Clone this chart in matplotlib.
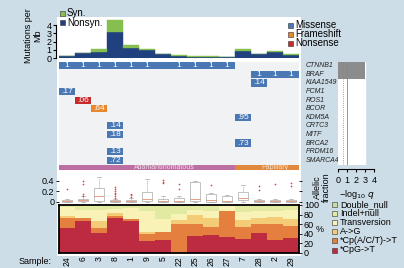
import matplotlib
matplotlib.use('Agg')
import matplotlib.pyplot as plt
from matplotlib.patches import Rectangle
from matplotlib.transforms import blended_transform_factory
import numpy as np

plt.rcParams['font.family'] = ['Liberation Sans', 'DejaVu Sans']

# ---------------- data ----------------
samples = ['24', '6', '3', '8', '1', '9', '5', '22', '25', '26', '27', '7', '28', '2', '29']
nonsyn = [0.25, 0.55, 0.75, 3.15, 1.2, 1.0, 0.45, 0.28, 0.18, 0.18, 0.08, 0.85, 0.45, 0.7, 0.33]
syn = [0.05, 0.10, 0.30, 1.45, 0.40, 0.05, 0.03, 0.07, 0.04, 0.04, 0.04, 0.25, 0.05, 0.15, 0.12]

genes = ['CTNNB1', 'BRAF', 'KIAA1549', 'PCM1', 'ROS1', 'BCOR', 'KDM5A', 'CRTC3',
         'MITF', 'BRCA2', 'PRDM16', 'SMARCA4']
mut_gene = ['CTNNB1'] * 11 + ['BRAF'] * 3 + ['KIAA1549', 'PCM1', 'ROS1', 'BCOR', 'KDM5A',
                                            'CRTC3', 'MITF', 'BRCA2', 'PRDM16', 'SMARCA4']
mut_sample = ['24', '6', '3', '8', '1', '9', '5', '22', '25', '26', '27',
              '28', '2', '29',
              '28', '24', '6', '3', '7', '8', '8', '7', '8', '8']
mut_type = ['Missense'] * 14 + ['Missense', 'Missense', 'Nonsense', 'Frameshift', 'Missense',
                                'Missense', 'Missense', 'Missense', 'Missense', 'Missense']
mut_label = ['1', '1', '1', '1', '1', '1', '', '1', '1', '1', '1',
             '1', '1', '1',
             '.14', '.17', '.06', '.64', '.95', '.14', '.18', '.73', '.13', '.72']
type_colors = {'Missense': '#4a78b4', 'Frameshift': '#e8872c', 'Nonsense': '#c92a2a'}

neglog_q = [3.0, 3.0, 0, 0, 0, 0, 0, 0, 0, 0, 0, 0]
q_line_solid = 1.0
q_line_dotted = 0.6

subtype = ['Adamantinomatous'] * 11 + ['Papillary'] * 4
subtype_colors = {'Adamantinomatous': '#bb6fa3', 'Papillary': '#e0893c'}

af_q1 = [0.0, 0.01, 0.02, 0.0, 0.0, 0.01, 0.0, 0.0, 0.01, 0.0, 0.0, 0.03, 0.0, 0.0, 0.0]
af_med = [0.01, 0.03, 0.10, 0.01, 0.01, 0.05, 0.02, 0.01, 0.05, 0.03, 0.02, 0.08, 0.01, 0.01, 0.01]
af_q3 = [0.03, 0.06, 0.27, 0.03, 0.03, 0.18, 0.06, 0.08, 0.38, 0.14, 0.11, 0.19, 0.04, 0.03, 0.03]
af_whislo = [0.0] * 15
af_whishi = [0.06, 0.10, 0.48, 0.06, 0.07, 0.43, 0.10, 0.10, 0.40, 0.16, 0.13, 0.31, 0.06, 0.05, 0.05]
af_fliers = [[0.25], [0.11, 0.14, 0.34, 0.40], [], [0.08, 0.11, 0.14, 0.17, 0.20, 0.24, 0.28],
             [0.09, 0.12, 0.15], [], [0.35, 0.38, 0.41], [0.24, 0.34], [], [0.32], [], [],
             [0.23, 0.30], [0.33], [0.30, 0.36]]

spec_names = ['*CpG->T', '*Cp(A/C/T)->T', 'A->G', 'Transversion', 'Indel+null', 'Double_null']
spec_colors = ['#bd2b40', '#e47f3f', '#f4cc78', '#f9f2b6', '#e2e9a0', '#c6dea2']
cpg = [52, 67, 41, 73, 66, 26, 28, 0, 36, 37, 34, 30, 41, 28, 31]
cpa = [21, 5, 12, 5, 5, 13, 16, 61, 25, 18, 53, 24, 20, 33, 26]
ag = [5, 0, 13, 6, 0, 5, 0, 7, 19, 18, 0, 14, 12, 14, 14]
transv = [17, 17, 23, 8, 22, 44, 27, 14, 10, 15, 13, 18, 15, 13, 18]
indel = [5, 11, 11, 8, 7, 12, 29, 18, 10, 12, 0, 14, 12, 12, 11]
double = [0, 0, 0, 0, 0, 0, 0, 0, 0, 0, 0, 0, 0, 0, 0]
spec = [cpg, cpa, ag, transv, indel, double]

# ---------------- layout ----------------
W, H = 404, 268
fig = plt.figure(figsize=(W / 100, H / 100), dpi=100)
fig.patch.set_facecolor('#cddde7')


def add_ax(l, t, r, b):
    return fig.add_axes([l / W, 1 - b / H, (r - l) / W, (b - t) / H])


def fx(x):
    return x / W


def fy(y):
    return 1 - y / H


fig.add_artist(Rectangle((fx(57), fy(256)), 244 / W, 239 / H, transform=fig.transFigure,
                         facecolor='white', edgecolor='none', zorder=0))

n = len(samples)
xs = np.arange(n)
xlim = (-0.5, n - 0.5)
tick_fs = 6.5

# ---- mutation rate bars ----
ax1 = add_ax(59, 18, 299, 58)
ax1.set_facecolor('none')
ax1.bar(xs, nonsyn, width=1.0, color='#21407f', edgecolor='#21407f', linewidth=0.3)
ax1.bar(xs, syn, bottom=nonsyn, width=1.0, color='#86bf50', edgecolor='#86bf50', linewidth=0.3)
ax1.set_xlim(xlim)
ax1.set_ylim(0, 4.85)
for s in ['top', 'right', 'bottom']:
    ax1.spines[s].set_visible(False)
ax1.spines['left'].set_position(('outward', 2))
ax1.spines['left'].set_bounds(0, 4)
ax1.spines['left'].set_linewidth(0.8)
ax1.set_yticks([0, 1, 2, 3, 4])
ax1.tick_params(axis='y', labelsize=tick_fs, length=2.5, width=0.8, pad=1)
ax1.set_xticks([])
fig.text(fx(33), fy(36), 'Mutations per\nMb', rotation=90, ha='center', va='center',
         fontsize=6.5, linespacing=1.0)

# top-left legend
for yy, lab, col in [(13, 'Syn.', '#86bf50'), (22.5, 'Nonsyn.', '#21407f')]:
    fig.add_artist(Rectangle((fx(60), fy(yy + 2.5)), 5 / W, 5 / H, transform=fig.transFigure,
                             facecolor=col, edgecolor='#333333', linewidth=0.4))
    fig.text(fx(67), fy(yy), lab, ha='left', va='center', fontsize=7)

# mutation type legend
for yy, lab in [(25, 'Missense'), (34, 'Frameshift'), (43, 'Nonsense')]:
    fig.add_artist(Rectangle((fx(288), fy(yy + 2.5)), 5 / W, 5 / H, transform=fig.transFigure,
                             facecolor=type_colors[lab], edgecolor='#333333', linewidth=0.4))
    fig.text(fx(295), fy(yy), lab, ha='left', va='center', fontsize=7)

# ---- oncoprint ----
ax2 = add_ax(59, 61.5, 299, 164.5)
ax2.set_facecolor('#f0f2f4')
ax2.set_xlim(xlim)
ax2.set_ylim(len(genes) - 0.5, -0.5)
for s in ax2.spines.values():
    s.set_visible(False)
ax2.set_xticks([])
ax2.set_yticks([])
gx = [samples.index(s) for s in mut_sample]
gy = [genes.index(g) for g in mut_gene]
gc = [type_colors[t] for t in mut_type]
ax2.bar(gx, 0.84, bottom=np.array(gy) - 0.42, width=0.97, color=gc, linewidth=0)
for x, y, lab in zip(gx, gy, mut_label):
    ax2.text(x, y, lab, ha='center', va='center', color='white', fontsize=6)
tr = blended_transform_factory(ax2.transAxes, ax2.transData)
for i, g in enumerate(genes):
    ax2.text((306 - 59) / 240, i, g, transform=tr, ha='left', va='center', fontsize=5,
             style='italic', color='#222222', clip_on=False)

# ---- q values ----
axq = add_ax(338, 61.5, 375, 164.5)
axq.set_facecolor('none')
axq.set_xlim(0, 4.1)
axq.set_ylim(len(genes) - 0.5, -0.5)
axq.axvspan(0, 3.0, color='white', zorder=0)
axq.barh(np.arange(len(genes)), neglog_q, height=0.97, color='#8c8c8c', zorder=1)
axq.axvline(q_line_solid, color='#e06060', lw=0.6, zorder=2)
axq.axvline(q_line_dotted, color='#9070c0', lw=0.6, ls=':', zorder=2)
for s in ['top', 'right', 'left']:
    axq.spines[s].set_visible(False)
axq.spines['bottom'].set_position(('outward', 3))
axq.spines['bottom'].set_bounds(0, 4)
axq.spines['bottom'].set_linewidth(0.8)
axq.set_yticks([])
axq.set_xticks([0, 1, 2, 3, 4])
axq.tick_params(axis='x', labelsize=tick_fs, length=2.5, width=0.8, pad=2.5)
axq.set_xlabel('\u2212log$_{10}$ $q$', fontsize=6.5, labelpad=2.5)

# ---- subtype ----
ax3 = add_ax(59, 164.5, 299, 170)
ax3.bar(xs, 1, width=1.0, color=[subtype_colors[s] for s in subtype], linewidth=0)
ax3.set_xlim(xlim)
ax3.set_ylim(0, 1)
ax3.axis('off')
ax3.text(6.1, 0.5, 'Adamantinomatous', ha='center', va='center', fontsize=5, color='#f3dce9')
ax3.text(13.0, 0.5, 'Papillary', ha='center', va='center', fontsize=5, color='#f8e0c8')

# ---- allelic fraction ----
ax4 = add_ax(59, 170, 299, 203.5)
ax4.set_facecolor('none')
stats = []
for i in range(n):
    stats.append(dict(med=af_med[i], q1=af_q1[i], q3=af_q3[i], whislo=af_whislo[i],
                      whishi=af_whishi[i], fliers=af_fliers[i]))
ax4.bxp(stats, positions=xs, widths=0.6, patch_artist=True, manage_ticks=False,
        boxprops=dict(facecolor='white', edgecolor='#aaaaaa', linewidth=0.5),
        whiskerprops=dict(color='#aaaaaa', linewidth=0.5, linestyle=(0, (2, 1))),
        capprops=dict(color='#aaaaaa', linewidth=0.5),
        medianprops=dict(color='#e07a50', linewidth=0.5),
        flierprops=dict(marker='o', markersize=1.2, markerfacecolor='#d84040',
                        markeredgecolor='none'))
ax4.set_xlim(xlim)
ax4.set_ylim(-0.034, 0.604)
for s in ax4.spines.values():
    s.set_visible(False)
ax4.set_xticks([])
ax4.set_yticks([0, 0.2, 0.4])
ax4.set_yticklabels(['0', '0.2', '0.4'])
ax4.tick_params(axis='y', labelsize=tick_fs, length=2.5, width=0.6, pad=1, right=True)
fig.text(fx(322), fy(187), 'Allelic\nfraction', rotation=90, ha='center', va='center',
         fontsize=6.5, linespacing=1.0)

# ---- mutation spectrum ----
ax5 = add_ax(59, 205, 299, 253)
bottom = np.zeros(n)
for vals, col in zip(spec, spec_colors):
    ax5.bar(xs, vals, bottom=bottom, width=1.0, color=col, linewidth=0)
    bottom = bottom + np.array(vals)
ax5.set_xlim(xlim)
ax5.set_ylim(0, 100)
for s in ax5.spines.values():
    s.set_linewidth(1.3)
    s.set_color('black')
ax5.yaxis.tick_right()
ax5.set_yticks([0, 20, 40, 60, 80, 100])
ax5.tick_params(axis='y', labelsize=tick_fs, length=2.5, width=0.6, pad=1)
ax5.set_xticks(xs)
ax5.set_xticklabels(samples, rotation=90, fontsize=6.2)
ax5.tick_params(axis='x', length=0, pad=2.5)
fig.text(fx(320), fy(229), '%', ha='center', va='center', fontsize=6.5)
fig.text(fx(52), fy(261), 'Sample:', ha='right', va='center', fontsize=6.5)

# spectrum legend
for k, lab in enumerate(spec_names[::-1]):
    yy = 204.5 + k * 9.1
    col = spec_colors[len(spec_names) - 1 - k]
    fig.add_artist(Rectangle((fx(332), fy(yy + 2.5)), 5 / W, 5 / H, transform=fig.transFigure,
                             facecolor=col, edgecolor='#333333', linewidth=0.4))
    fig.text(fx(340), fy(yy), lab, ha='left', va='center', fontsize=6.5)

fig.savefig('out.png', dpi=100, facecolor=fig.get_facecolor())
